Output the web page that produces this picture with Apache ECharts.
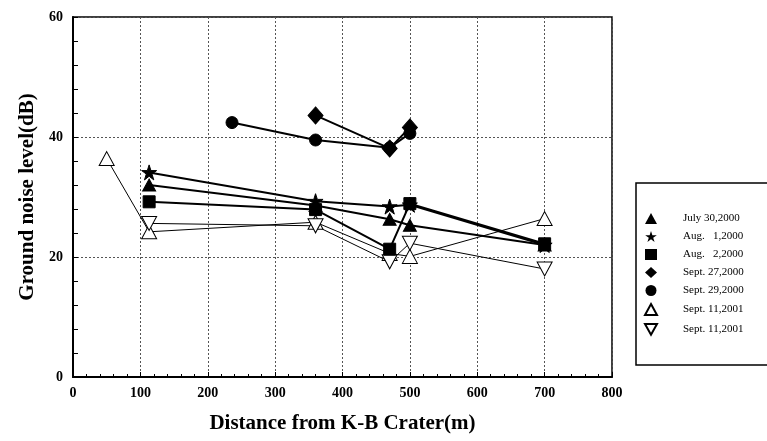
<!DOCTYPE html>
<html>
<head>
<meta charset="utf-8">
<script src="https://cdn.jsdelivr.net/npm/echarts@6/dist/echarts.min.js"></script>
<style>
html, body { margin: 0; padding: 0; background: #fff; }
#chart { width: 767px; height: 441px; }
</style>
</head>
<body>
<div id="chart"></div>
<script>
// distance (m) and noise level (dB)
var julyX = [113, 360, 470, 500, 700]
var julyY = [32.0, 28.6, 26.3, 25.3, 22.0]
var aug1X = [113, 360, 470, 500, 700]
var aug1Y = [34.1, 29.3, 28.4, 28.7, 22.0]
var aug2X = [113, 360, 470, 500, 700]
var aug2Y = [29.2, 27.9, 21.3, 28.9, 22.2]
var sep27X = [360, 470, 500]
var sep27Y = [43.6, 38.1, 41.6]
var sep29X = [236, 360, 470, 500]
var sep29Y = [42.4, 39.5, 38.2, 40.6]
var sep11aX = [50, 113, 360, 470, 500, 700]
var sep11aY = [36.4, 24.2, 25.8, 20.6, 20.1, 26.4]
var sep11bX = [113, 360, 470, 500, 700]
var sep11bY = [25.6, 25.2, 19.2, 22.3, 18.0]

var names = ['July 30,2000', 'Aug.   1,2000', 'Aug.   2,2000', 'Sept. 27,2000', 'Sept. 29,2000', 'Sept. 11,2001', 'Sept. 11,2001 ']
var downTri = 'path://M0,0L10,0L5,9Z'
var star = 'path://M5,0L6.2,3.6L10,3.6L6.9,5.8L8.1,9.5L5,7.2L1.9,9.5L3.1,5.8L0,3.6L3.8,3.6Z'

function pairs (xs, ys) {
  return xs.map(function (x, i) { return [x, ys[i]] })
}

function filled (name, xs, ys, symbol, size) {
  return {
    name: name,
    type: 'line',
    data: pairs(xs, ys),
    symbol: symbol,
    symbolSize: size,
    lineStyle: { color: '#000', width: 2 },
    itemStyle: { color: '#000', borderColor: '#000' }
  }
}

function hollow (name, xs, ys, symbol) {
  return {
    name: name,
    type: 'line',
    data: pairs(xs, ys),
    symbol: symbol,
    symbolSize: [15, 14],
    lineStyle: { color: '#000', width: 1 },
    itemStyle: { color: '#fff', borderColor: '#000', borderWidth: 1 }
  }
}

var serif = '"Liberation Serif", "Times New Roman", serif'

var option = {
  animation: false,
  backgroundColor: '#fff',
  grid: {
    left: 73, right: 155, top: 17, bottom: 64,
    show: true, borderColor: '#000', borderWidth: 1.5, backgroundColor: 'transparent'
  },
  xAxis: {
    type: 'value',
    min: 0, max: 800, interval: 100,
    name: 'Distance from K-B Crater(m)',
    nameLocation: 'middle',
    nameGap: 36,
    nameTextStyle: { fontFamily: serif, fontWeight: 'bold', fontSize: 21, color: '#000' },
    axisLine: { lineStyle: { color: '#000', width: 2 } },
    axisTick: { inside: true, length: 5, lineStyle: { color: '#000' } },
    minorTick: { show: true, splitNumber: 5, length: 3, lineStyle: { color: '#000' } },
    axisLabel: { fontFamily: serif, fontWeight: 'bold', fontSize: 14, color: '#000', margin: 9 },
    splitLine: { show: true, lineStyle: { color: '#555', type: [2, 2], width: 1 } }
  },
  yAxis: {
    type: 'value',
    min: 0, max: 60, interval: 20,
    name: 'Ground noise level(dB)',
    nameLocation: 'middle',
    nameGap: 34,
    nameTextStyle: { fontFamily: serif, fontWeight: 'bold', fontSize: 21, color: '#000' },
    axisLine: { lineStyle: { color: '#000', width: 2 } },
    axisTick: { inside: true, length: 5, lineStyle: { color: '#000' } },
    minorTick: { show: true, splitNumber: 5, length: 5, lineStyle: { color: '#000' } },
    axisLabel: { fontFamily: serif, fontWeight: 'bold', fontSize: 14, color: '#000', margin: 10 },
    splitLine: { show: true, lineStyle: { color: '#555', type: [2, 2], width: 1 } }
  },
  legend: {
    orient: 'vertical',
    left: 639,
    top: 208,
    itemWidth: 12,
    itemHeight: 11,
    itemGap: 7,
    data: [
      { name: names[0], icon: 'triangle' },
      { name: names[1], icon: star },
      { name: names[2], icon: 'rect' },
      { name: names[3], icon: 'diamond' },
      { name: names[4], icon: 'circle' },
      { name: names[5], icon: 'triangle' },
      { name: names[6], icon: downTri }
    ],
    textStyle: { fontFamily: serif, fontSize: 11, color: '#000', padding: [0, 0, 0, 21] }
  },
  graphic: [{
    type: 'rect',
    shape: { x: 636, y: 183, width: 140, height: 182 },
    style: { fill: 'none', stroke: '#000', lineWidth: 1.5 },
    silent: true
  }],
  // drawing order: hollow first, then filled; diamonds on top of circles
  series: [
    hollow(names[5], sep11aX, sep11aY, 'triangle'),
    hollow(names[6], sep11bX, sep11bY, downTri),
    filled(names[0], julyX, julyY, 'triangle', [13, 12]),
    filled(names[1], aug1X, aug1Y, star, 15),
    filled(names[2], aug2X, aug2Y, 'rect', 12),
    filled(names[4], sep29X, sep29Y, 'circle', 12),
    filled(names[3], sep27X, sep27Y, 'diamond', [15, 17])
  ]
}

var myChart = echarts.init(document.getElementById('chart'))
myChart.setOption(option)
</script>
</body>
</html>
